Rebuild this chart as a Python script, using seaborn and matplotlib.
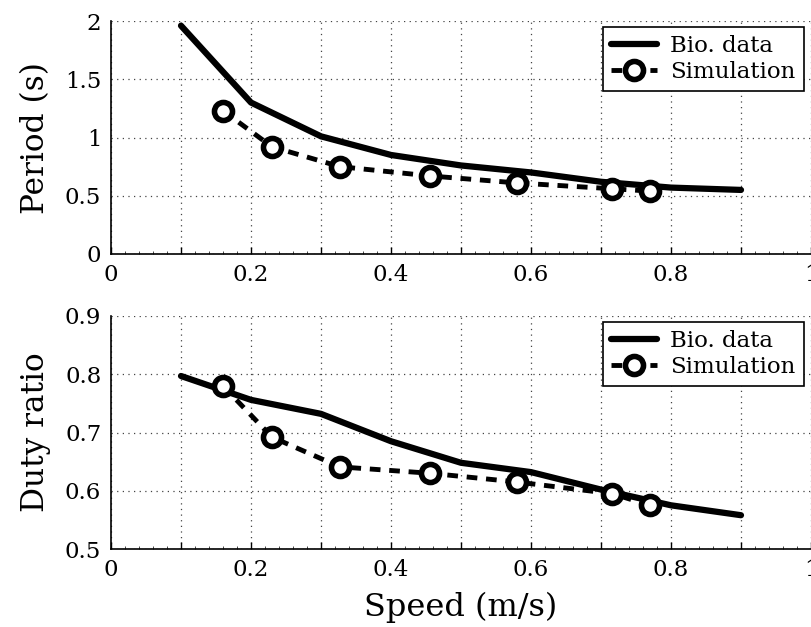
import matplotlib
matplotlib.use("Agg")
import matplotlib.pyplot as plt
import seaborn as sns
import pandas as pd
import numpy as np
from matplotlib.ticker import MultipleLocator, FixedLocator

# ---- data ----
bio_speed = [0.1, 0.2, 0.3, 0.4, 0.5, 0.6, 0.7, 0.8, 0.9]
bio_period = [1.96, 1.30, 1.01, 0.85, 0.76, 0.70, 0.62, 0.57, 0.55]
bio_duty = [0.797, 0.756, 0.732, 0.685, 0.648, 0.632, 0.602, 0.575, 0.558]

sim_speed = [0.16, 0.23, 0.327, 0.456, 0.58, 0.716, 0.77]
sim_period = [1.23, 0.92, 0.75, 0.67, 0.61, 0.56, 0.54]
sim_duty = [0.780, 0.692, 0.641, 0.630, 0.615, 0.595, 0.575]

x_ticklabels = ["0", "0.2", "0.4", "0.6", "0.8", "1"]
period_ticks = [0, 0.5, 1, 1.5, 2]
period_ticklabels = ["0", "0.5", "1", "1.5", "2"]
duty_ticks = [0.5, 0.6, 0.7, 0.8, 0.9]
duty_ticklabels = ["0.5", "0.6", "0.7", "0.8", "0.9"]

labels = ["Bio. data", "Simulation"]
ylabels = ["Period (s)", "Duty ratio"]
xlabel = "Speed (m/s)"

sns.set_style("white")
plt.rcParams["font.family"] = ["DejaVu Serif"]
plt.rcParams["text.color"] = "black"
plt.rcParams["axes.labelcolor"] = "black"

fig = plt.figure(figsize=(8.11, 6.27), dpi=100)
ax1 = fig.add_axes([111/811, 1-254/627, 700/811, 233/627])
ax2 = fig.add_axes([111/811, 1-549/627, 700/811, 233/627])

panels = [
    (ax1, bio_period, sim_period, period_ticks, period_ticklabels, (0, 2), ylabels[0]),
    (ax2, bio_duty, sim_duty, duty_ticks, duty_ticklabels, (0.5, 0.9), ylabels[1]),
]

for ax, bio, sim, yt, ytl, ylim, yl in panels:
    df_bio = pd.DataFrame({"x": bio_speed, "y": bio})
    df_sim = pd.DataFrame({"x": sim_speed, "y": sim})
    sns.lineplot(data=df_bio, x="x", y="y", ax=ax, color="black", lw=4.5,
                 label=labels[0], estimator=None, sort=False)
    sns.lineplot(data=df_sim, x="x", y="y", ax=ax, color="black", lw=3.5,
                 linestyle=(0, (2.2, 1.8)), marker="o", markersize=13,
                 markerfacecolor="white", markeredgecolor="black", markeredgewidth=4,
                 label=labels[1], estimator=None, sort=False)
    ax.set_xlim(0, 1)
    ax.set_ylim(*ylim)
    ax.xaxis.set_major_locator(FixedLocator(np.round(np.arange(0, 1.01, 0.1), 2)))
    ax.set_xticklabels([x_ticklabels[i // 2] if i % 2 == 0 else "" for i in range(11)])
    ax.xaxis.set_minor_locator(MultipleLocator(0.02))
    ax.set_yticks(yt)
    ax.set_yticklabels(ytl)
    ax.grid(True, which="major", color="#444444", linestyle=(0, (1, 3.5)), linewidth=0.9)
    for s in ["top", "right"]:
        ax.spines[s].set_visible(False)
    for s in ["left", "bottom"]:
        ax.spines[s].set_color("black")
        ax.spines[s].set_linewidth(1.2)
    ax.tick_params(axis="both", which="major", direction="in", length=5, width=1,
                   labelsize=16.5, colors="black", labelcolor="black", pad=7,
                   left=True, bottom=True)
    ax.tick_params(axis="x", which="minor", direction="in", length=2, width=0.6,
                   bottom=True)
    ax.tick_params(axis="y", which="major", length=0)
    ax.set_ylabel(yl, fontsize=22.5, labelpad=10, color="black")
    ax.set_xlabel("")
    leg = ax.legend(loc="upper right", fontsize=16.5, frameon=True, fancybox=False,
                    framealpha=1, edgecolor="black", handlelength=2.0,
                    borderpad=0.35, labelspacing=0.2, handletextpad=0.6,
                    borderaxespad=0.2, bbox_to_anchor=(0.996, 0.995))
    leg.get_frame().set_linewidth(1.2)
    for t in leg.get_texts():
        t.set_color("black")

ax2.set_xlabel(xlabel, fontsize=23, labelpad=8, color="black")

fig.savefig("out.png", dpi=100)
